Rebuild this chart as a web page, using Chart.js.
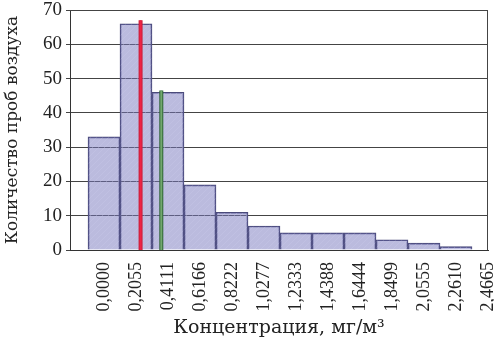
<!DOCTYPE html>
<html>
<head>
<meta charset="utf-8">
<script src="https://cdn.jsdelivr.net/npm/chart.js@4/dist/chart.umd.min.js"></script>
<style>
  body { margin: 0; background: #fff; }
  #wrap { width: 494px; height: 344px; }
</style>
</head>
<body>
<div id="wrap"><canvas id="hist"></canvas></div>
<script>
// tick values on x (bin starts)
const edgeValues = [0, 0.2055, 0.4111, 0.6166, 0.8222, 1.0277, 1.2333, 1.4388, 1.6444, 1.8499, 2.0555, 2.2610, 2.4665];
const tickLabels = ['0,0000', '0,2055', '0,4111', '0,6166', '0,8222', '1,0277', '1,2333', '1,4388', '1,6444', '1,8499', '2,0555', '2,2610', '2,4665'];
// number of air samples per bin
const counts = [33, 66, 46, 19, 11, 7, 5, 5, 5, 3, 2, 1];
// red and green marker lines
const redLine = [0.235, 67];
const greenLine = [0.368, 46.5];

const serif = '"Liberation Serif", "DejaVu Serif", serif';
const wideSerif = '"DejaVu Serif", serif';

// light hatch like the original fill
function makeHatch() {
    const c = document.createElement('canvas');
    c.width = 6; c.height = 6;
    const g = c.getContext('2d');
    g.fillStyle = 'rgba(120,120,190,0.5)';
    g.fillRect(0, 0, 6, 6);
    g.strokeStyle = 'rgba(200,200,235,0.35)';
    g.lineWidth = 1;
    g.beginPath();
    g.moveTo(0, 6); g.lineTo(6, 0);
    g.moveTo(-3, 3); g.lineTo(3, -3);
    g.moveTo(3, 9); g.lineTo(9, 3);
    g.stroke();
    return g.createPattern(c, 'repeat');
}

function vline(pos, color, width, order) {
    return {
        type: 'line',
        data: [{x: pos[0], y: 0}, {x: pos[0], y: pos[1]}],
        borderColor: color,
        borderWidth: width,
        borderCapStyle: 'butt',
        pointRadius: 0,
        order: order
    };
}

// box round the plot (top and right sides)
const frame = {
    id: 'frame',
    afterDraw(chart) {
        const {ctx, chartArea: a} = chart;
        ctx.save();
        ctx.strokeStyle = '#444';
        ctx.lineWidth = 1;
        ctx.beginPath();
        ctx.moveTo(a.left, a.top + 0.5);
        ctx.lineTo(a.right - 0.5, a.top + 0.5);
        ctx.lineTo(a.right - 0.5, a.bottom);
        ctx.stroke();
        ctx.restore();
    }
};

new Chart(document.getElementById('hist'), {
    type: 'bar',
    data: {
        datasets: [
            vline(redLine, '#c8203c', 4, 1),
            vline(redLine, '#ee2244', 2, 0),
            vline(greenLine, '#2f6436', 4, 1),
            vline(greenLine, '#72a86e', 2, 0),
            {
                type: 'bar',
                data: counts.map((c, i) => ({x: edgeValues[i], y: c})),
                backgroundColor: makeHatch(),
                borderColor: '#4a4a7a',
                borderWidth: 1,
                barPercentage: 1,
                categoryPercentage: 1,
                order: 5
            }
        ]
    },
    options: {
        responsive: true,
        maintainAspectRatio: false,
        animation: false,
        layout: {padding: {top: 10, right: 6, left: 0, bottom: 0}},
        plugins: {legend: {display: false}, tooltip: {enabled: false}},
        scales: {
            x: {
                type: 'linear',
                offset: false,
                min: -0.2184,
                max: 2.4665,
                afterBuildTicks: (scale) => {
                    scale.ticks = edgeValues.map(v => ({value: v}));
                },
                afterFit: (scale) => {
                    scale.height = 94;
                    scale.paddingLeft = 0;
                    scale.paddingRight = 0;
                },
                ticks: {
                    autoSkip: false,
                    minRotation: 90,
                    maxRotation: 90,
                    padding: 4,
                    color: '#222',
                    font: {family: serif, size: 18},
                    callback: (v, i) => tickLabels[i]
                },
                grid: {display: false, offset: false},
                border: {display: true, color: '#333', width: 1},
                title: {
                    display: true,
                    text: 'Концентрация, мг/м³',
                    color: '#222',
                    font: {family: wideSerif, size: 19},
                    padding: {top: 0, bottom: 5}
                }
            },
            y: {
                min: 0,
                max: 70,
                afterFit: (scale) => {
                    scale.width = 70;
                    scale.paddingTop = 0;
                    scale.paddingBottom = 0;
                },
                ticks: {
                    stepSize: 10,
                    padding: 4,
                    color: '#222',
                    font: {family: serif, size: 19}
                },
                grid: {color: '#444', lineWidth: 1, tickLength: 4},
                border: {display: true, color: '#333', width: 1},
                title: {
                    display: true,
                    text: 'Количество проб воздуха',
                    color: '#222',
                    font: {family: wideSerif, size: 17},
                    padding: {top: 2, bottom: 0}
                }
            }
        }
    },
    plugins: [frame]
});
</script>
</body>
</html>
